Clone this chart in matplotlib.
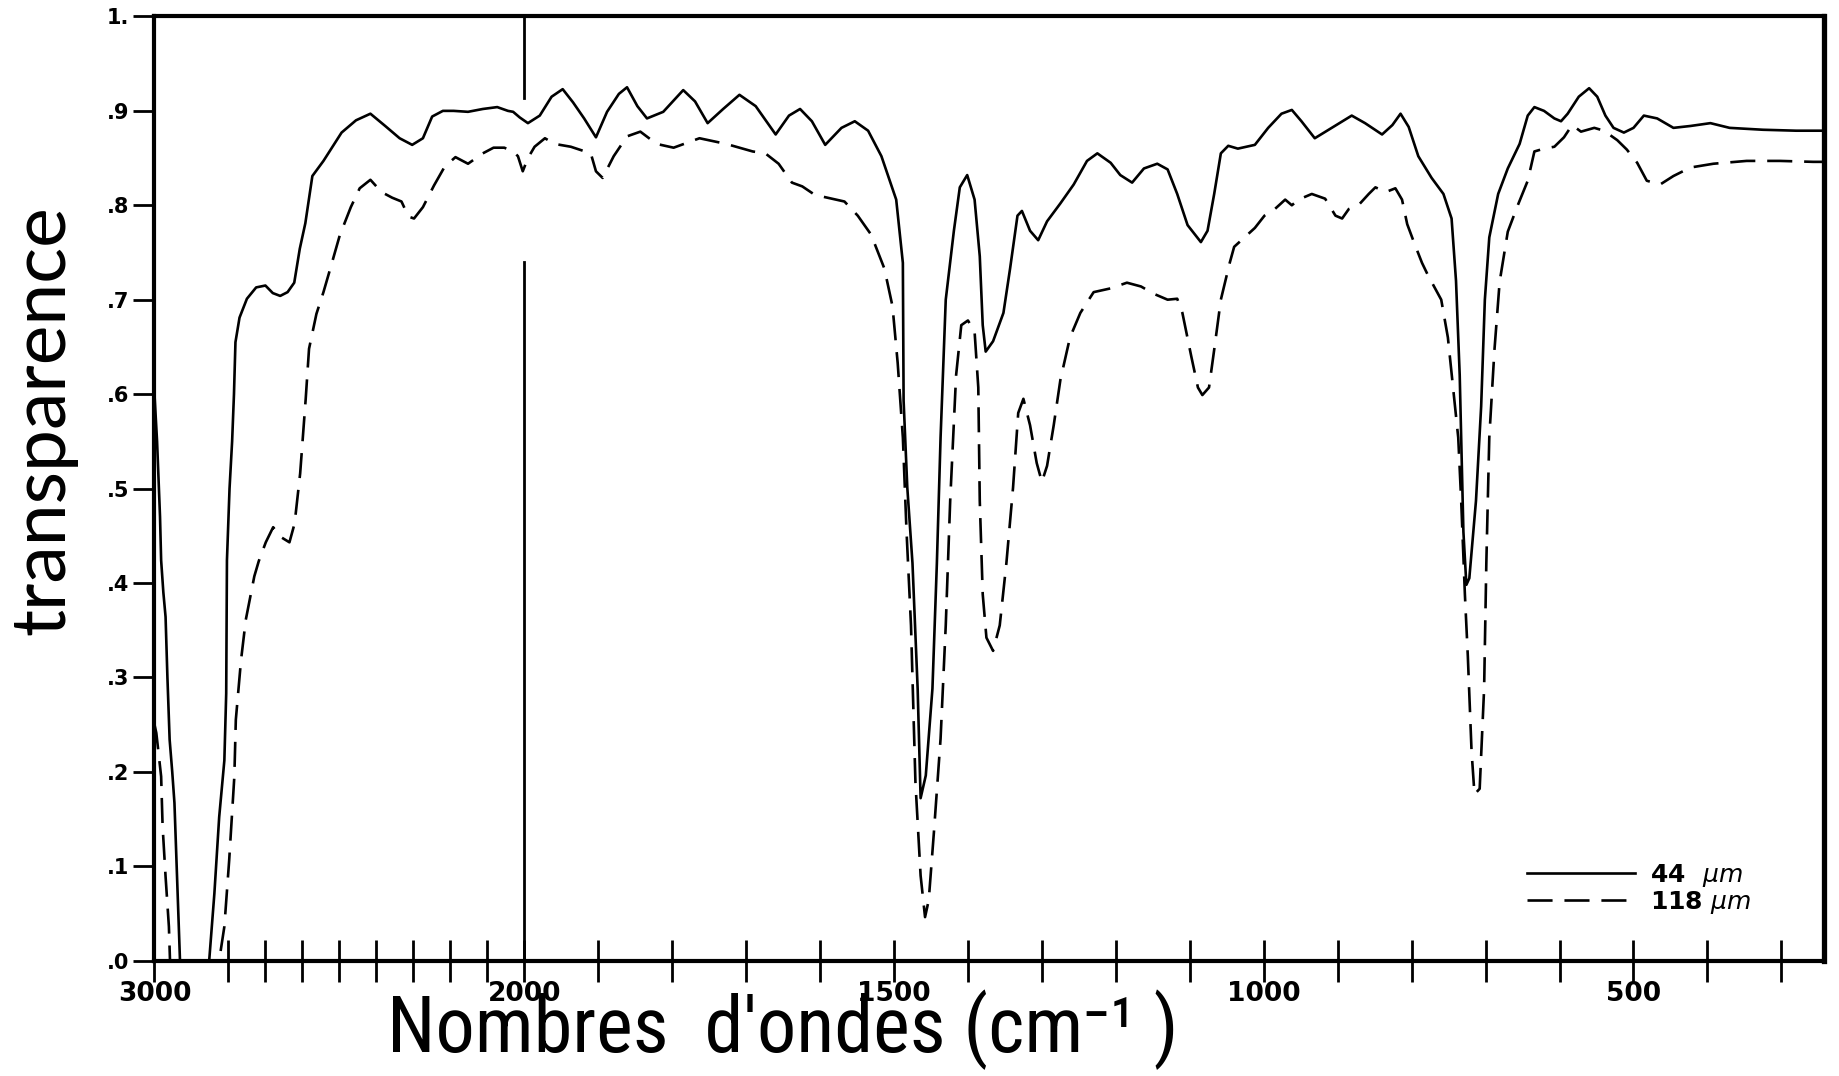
#!/usr/bin/env python3

import numpy as np
import matplotlib
matplotlib.use('Agg')
from matplotlib import pyplot as plt
from matplotlib import font_manager


# wavenumbers (cm-1) and transparence
wn_44 = [3000, 2993, 2985, 2982, 2976, 2970, 2965, 2959, 2952, 2946, 2940, 2933, 2931,
         2852, 2838, 2825, 2811, 2806, 2804, 2797, 2790, 2785, 2781, 2770, 2750, 2725,
         2700, 2680, 2660, 2640, 2622, 2607, 2592, 2573, 2543, 2494, 2455, 2416, 2376,
         2337, 2303, 2274, 2249, 2220, 2191, 2152, 2112, 2073, 2044, 2030, 2012, 1995,
         1979, 1963, 1948, 1934, 1919, 1903, 1888, 1872, 1861, 1847, 1834, 1812, 1785,
         1769, 1752, 1731, 1709, 1687, 1660, 1642, 1627, 1611, 1593, 1571, 1553, 1535,
         1517, 1497, 1488, 1487, 1482, 1475, 1468, 1464, 1457, 1448, 1442, 1437, 1430,
         1419, 1411, 1401, 1391, 1384, 1380, 1376, 1366, 1352, 1343, 1333, 1327, 1316,
         1305, 1293, 1275, 1257, 1239, 1225, 1207, 1194, 1178, 1162, 1144, 1130, 1117,
         1103, 1085, 1076, 1067, 1058, 1048, 1035, 1012, 994, 976, 962, 949, 931, 908,
         881, 863, 840, 826, 815, 804, 791, 773, 757, 746, 740, 735, 733, 730, 726, 722,
         713, 706, 701, 695, 683, 670, 654, 643, 634, 621, 607, 598, 589, 574, 560, 549,
         538, 527, 513, 500, 486, 468, 446, 423, 396, 370, 325, 280, 242]
tr_44 = [.600, .550, .470, .424, .390, .364, .300, .234, .200, .167, .100, .020, .000,
         .000, .071, .152, .212, .283, .424, .500, .550, .600, .655, .681, .701, .713,
         .715, .707, .704, .708, .718, .754, .781, .831, .847, .877, .890, .897, .884,
         .871, .864, .871, .894, .900, .900, .899, .902, .904, .900, .899, .893, .887,
         .895, .915, .923, .909, .892, .872, .899, .918, .925, .905, .892, .899, .922,
         .910, .887, .902, .917, .905, .875, .895, .902, .889, .864, .882, .889, .879,
         .852, .806, .739, .593, .501, .421, .288, .172, .196, .288, .421, .554, .700,
         .773, .819, .832, .806, .746, .673, .645, .656, .686, .733, .789, .794, .773,
         .763, .783, .802, .822, .847, .855, .845, .832, .824, .839, .844, .838, .812,
         .779, .761, .773, .812, .855, .863, .860, .864, .882, .897, .901, .889, .871, .882,
         .895, .887, .875, .885, .897, .883, .852, .829, .812, .786, .720, .620, .554, .454,
         .398, .405, .487, .587, .700, .766, .812, .839, .865, .895, .904, .900, .892, .889,
         .897, .915, .924, .915, .895, .882, .877, .882, .895, .892, .882, .884, .887,
         .882, .880, .879, .879]

wn_118 = [3000, 2995, 2982, 2978, 2970, 2961, 2958, 2825, 2811, 2798, 2784, 2780, 2766,
          2753, 2730, 2718, 2699, 2679, 2660, 2635, 2621, 2606, 2591, 2582, 2562, 2543,
          2523, 2499, 2469, 2445, 2416, 2386, 2357, 2332, 2313, 2298, 2274, 2244, 2215,
          2186, 2152, 2112, 2083, 2054, 2030, 2017, 2004, 1995, 1986, 1972, 1959, 1937,
          1910, 1903, 1894, 1879, 1861, 1843, 1821, 1798, 1763, 1727, 1691, 1674, 1656,
          1638, 1624, 1607, 1584, 1567, 1549, 1531, 1513, 1502, 1495, 1488, 1483, 1477,
          1471, 1464, 1458, 1453, 1446, 1437, 1430, 1424, 1416, 1409, 1400, 1391, 1386,
          1384, 1380, 1375, 1366, 1357, 1348, 1339, 1332, 1325, 1316, 1307, 1300, 1293,
          1284, 1275, 1262, 1248, 1230, 1207, 1185, 1166, 1148, 1130, 1117, 1110, 1098,
          1089, 1083, 1074, 1067, 1058, 1046, 1040, 1026, 1012, 999, 985, 971, 962, 953,
          935, 917, 903, 894, 885, 872, 858, 849, 835, 822, 813, 806, 796, 786, 778, 760,
          751, 744, 737, 733, 728, 724, 719, 715, 708, 702, 699, 695, 688, 681, 670, 657,
          643, 634, 621, 607, 594, 583, 571, 553, 540, 522, 509, 495, 482, 464, 446, 423,
          392, 347, 302, 257, 242]
tr_118 = [.250, .241, .195, .142, .089, .036, .000, .000, .036, .106, .195, .255, .318,
          .361, .407, .423, .443, .459, .449, .443, .463, .516, .595, .648, .685, .708,
          .735, .768, .798, .818, .827, .814, .808, .804, .788, .786, .798, .821, .841,
          .851, .844, .855, .861, .861, .857, .852, .836, .850, .862, .871, .865, .862,
          .855, .836, .829, .852, .873, .878, .865, .861, .871, .865, .857, .855, .844,
          .824, .820, .811, .807, .804, .789, .769, .733, .693, .633, .554, .454, .355,
          .189, .090, .046, .064, .136, .235, .355, .487, .620, .673, .678, .666, .607,
          .487, .388, .342, .328, .355, .421, .501, .580, .595, .567, .527, .507, .524,
          .567, .615, .660, .686, .708, .712, .718, .714, .706, .700, .701, .686, .640,
          .607, .599, .607, .647, .700, .739, .756, .766, .776, .789, .796, .806, .800, .806,
          .812, .807, .789, .786, .796, .800, .812, .819, .814, .818, .806, .780, .759, .739,
          .726, .700, .660, .607, .554, .487, .388, .322, .222, .176, .182, .288, .421, .554,
          .647, .719, .772, .799, .826, .857, .860, .862, .872, .885, .878, .882, .879, .869,
          .859, .845, .826, .822, .831, .840, .844, .847, .847, .846, .846]

x_ticks = [3000, 2800, 2700, 2600, 2500, 2400, 2300, 2200, 2100, 2000, 1900, 1800,
           1700, 1600, 1500, 1400, 1300, 1200, 1100, 1000, 900, 800, 700, 600, 500,
           400, 300]
x_labelled = [3000, 2000, 1500, 1000, 500]
y_ticks = [0.0, 0.1, 0.2, 0.3, 0.4, 0.5, 0.6, 0.7, 0.8, 0.9, 1.0]
y_ticklabels = ['.0', '.1', '.2', '.3', '.4', '.5', '.6', '.7', '.8', '.9', '1.']
labels = [r'44  $\mathit{\mu m}$', r'118 $\mathit{\mu m}$']


def forward(v):
    v = np.asarray(v, dtype=float)
    # chart paper: scale is halved above 2000 cm-1
    return np.where(v > 2000, 2000 + (v - 2000) / 2.0, v)


def inverse(u):
    u = np.asarray(u, dtype=float)
    return np.where(u > 2000, 2000 + (u - 2000) * 2.0, u)


def pick_font(*names):
    installed = {f.name for f in font_manager.fontManager.ttflist}
    for n in names:
        if n in installed:
            return n
    return 'DejaVu Sans'


def fit_width(fig, txt, target, vertical=False):
    fig.canvas.draw()
    bb = txt.get_window_extent(fig.canvas.get_renderer())
    size = bb.height if vertical else bb.width
    txt.set_fontsize(txt.get_fontsize() * target / size)


def main():
    fig = plt.figure(figsize=(18.39, 10.76), dpi=100)
    ax = fig.add_axes([0.0840, 0.1073, 0.9080, 0.8774])

    ax.set_xscale('function', functions=(forward, inverse))
    l1, = ax.plot(wn_44, tr_44, color='black', lw=1.9, solid_joinstyle='round')
    l2, = ax.plot(wn_118, tr_118, color='black', lw=1.9, linestyle=(0, (9.5, 4.5)))

    # vertical chart line at 2000, interrupted where the traces run
    ax.axvline(2000, ymin=0.0, ymax=0.74, color='black', lw=2)
    ax.axvline(2000, ymin=0.914, ymax=1.0, color='black', lw=2)

    ax.set_xlim(3000, 242)
    ax.set_ylim(0, 1.0)

    ax.set_xticks(x_ticks)
    ax.set_xticklabels([str(t) if t in x_labelled else '' for t in x_ticks],
                       fontsize=19, fontweight='bold')
    ax.set_yticks(y_ticks)
    ax.set_yticklabels(y_ticklabels, fontsize=15, fontweight='bold')
    ax.tick_params(axis='x', direction='inout', length=30, width=2, pad=0)
    ax.tick_params(axis='y', direction='out', length=15, width=2, pad=3)

    for s in ax.spines.values():
        s.set_linewidth(3)
    ax.spines['right'].set_linewidth(3.8)

    ax.legend([l1, l2], labels, loc='center left', bbox_to_anchor=(0.822, 0.076),
              frameon=False, handlelength=4.3, handletextpad=0.6, labelspacing=0.0,
              borderpad=0, borderaxespad=0, prop={'weight': 'bold', 'size': 18})

    narrow = pick_font('Liberation Sans Narrow', 'DejaVu Sans Condensed', 'Roboto Condensed',
                       'DejaVu Sans')
    xl = fig.text(783 / 1839, 0.022, "Nombres  d'ondes (cm⁻¹ )", ha='center', va='baseline',
                  fontsize=48, family=[narrow, 'DejaVu Sans'])
    yl = fig.text(0.0234, 0.61, 'transparence', rotation=90, ha='center', va='center',
                  fontsize=40, family=['Lato', 'DejaVu Sans'])
    fit_width(fig, xl, 792)
    fit_width(fig, yl, 430, vertical=True)

    fig.savefig('out.png', dpi=100)


if __name__ == '__main__':
    main()
